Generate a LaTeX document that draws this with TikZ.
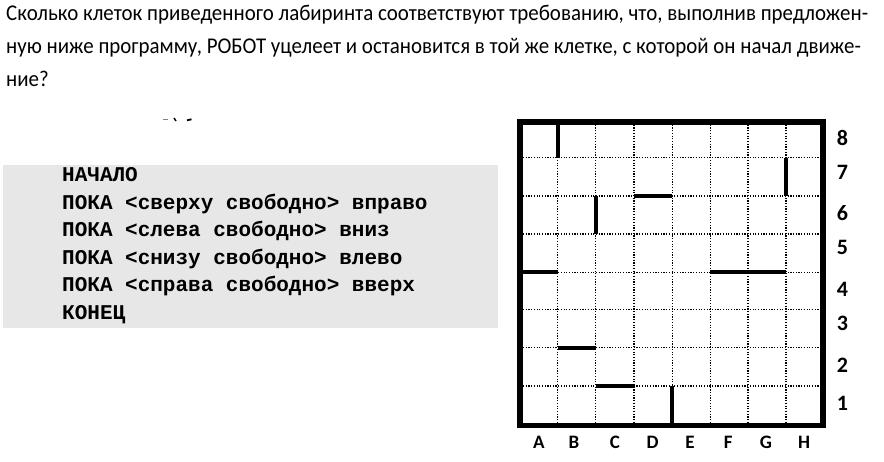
\documentclass[tikz,border=0pt]{standalone}
\usepackage{fontspec}
\setmainfont{Carlito}
\newfontfamily\codefont{Liberation Mono}
\definecolor{codebg}{HTML}{E7E7E7}
\newcommand{\narrowtxt}[1]{\scalebox{0.93}[1]{#1}}
\tikzset{
  txt/.style={anchor=base west, inner sep=0pt, font=\fontsize{22.5}{26}\selectfont},
  code/.style={anchor=base west, inner sep=0pt, font=\codefont\bfseries\fontsize{21}{24}\selectfont},
  gridline/.style={line width=1.1pt, dash pattern=on 1.2pt off 1.5pt},
  wall/.style={line width=4.3pt},
  border/.style={line width=5.8pt},
  collabel/.style={anchor=center, inner sep=0pt, font=\bfseries\fontsize{19}{22}\selectfont},
  rowlabel/.style={anchor=center, inner sep=0pt, font=\bfseries\fontsize{22}{26}\selectfont},
}
\begin{document}
\begin{tikzpicture}[x=1pt,y=-1pt]
\useasboundingbox (0,0) rectangle (884,461);
% question text
\node[txt] (q1) at (6,20.7) {\narrowtxt{Сколько клеток приведенного лабиринта соответствуют требованию, что, выполнив предложен-}};
\node[txt] (q2) at (6,53.3) {\narrowtxt{ную ниже программу, РОБОТ уцелеет и остановится в той же клетке, с которой он начал движе-}};
\node[txt] (q3) at (6,86) {\narrowtxt{ние?}};
% small scan marks
\draw[gray, line width=1.2pt] (163,119.3) -- (168,119.3);
\draw[line width=1.5pt] (174,118) -- (176,121);
\draw[line width=1.8pt] (187,120.3) -- (191.5,119.3);
% program box
\fill[codebg] (3,165) rectangle (498,328);
\node[code] (c1) at (62,181.5) {НАЧАЛО};
\node[code] (c2) at (62,209) {ПОКА <сверху свободно> вправо};
\node[code] (c3) at (62,236.5) {ПОКА <слева свободно> вниз};
\node[code] (c4) at (62,264) {ПОКА <снизу свободно> влево};
\node[code] (c5) at (62,291.5) {ПОКА <справа свободно> вверх};
\node[code] (c6) at (62,319) {КОНЕЦ};
% grid coordinates
\foreach \xx [count=\i from 0] in {520.3,557.7,595.7,634,672.3,710.3,748,786,823.3}{
  \foreach \yy [count=\j from 0] in {122,157.7,196,234,272.3,309.3,347.7,386,425.5}{
    \coordinate (g\i-\j) at (\xx,\yy);
  }
}
\foreach \k in {1,...,7}{
  \draw[gridline] (g\k-0) -- (g\k-8);
  \draw[gridline] (g0-\k) -- (g8-\k);
}
% walls
\draw[wall] (g1-0) -- (g1-1);
\draw[wall] (g7-1) -- (g7-2);
\draw[wall] (g2-2) -- (g2-3);
\draw[wall] (g3-2) -- (g4-2);
\draw[wall] (g0-4) -- (g1-4);
\draw[wall] (g5-4) -- (g7-4);
\draw[wall] (g1-6) -- (g2-6);
\draw[wall] (g2-7) -- (g3-7);
\draw[wall] (g4-7) -- (g4-8);
\draw[border] (g0-0) rectangle (g8-8);
% column labels
\foreach \lab/\xx in {A/539,B/574,C/615,D/652.7,E/690,F/728.3,G/766,H/804}{
  \node[collabel] (col\lab) at (\xx,442.5) {\lab};
}
% row labels
\foreach \lab/\yy in {8/138.3,7/172.5,6/213.3,5/247.5,4/289.7,3/323.7,2/365.3,1/403.7}{
  \node[rowlabel] (row\lab) at (842.5,\yy) {\lab};
}
\end{tikzpicture}
\end{document}
